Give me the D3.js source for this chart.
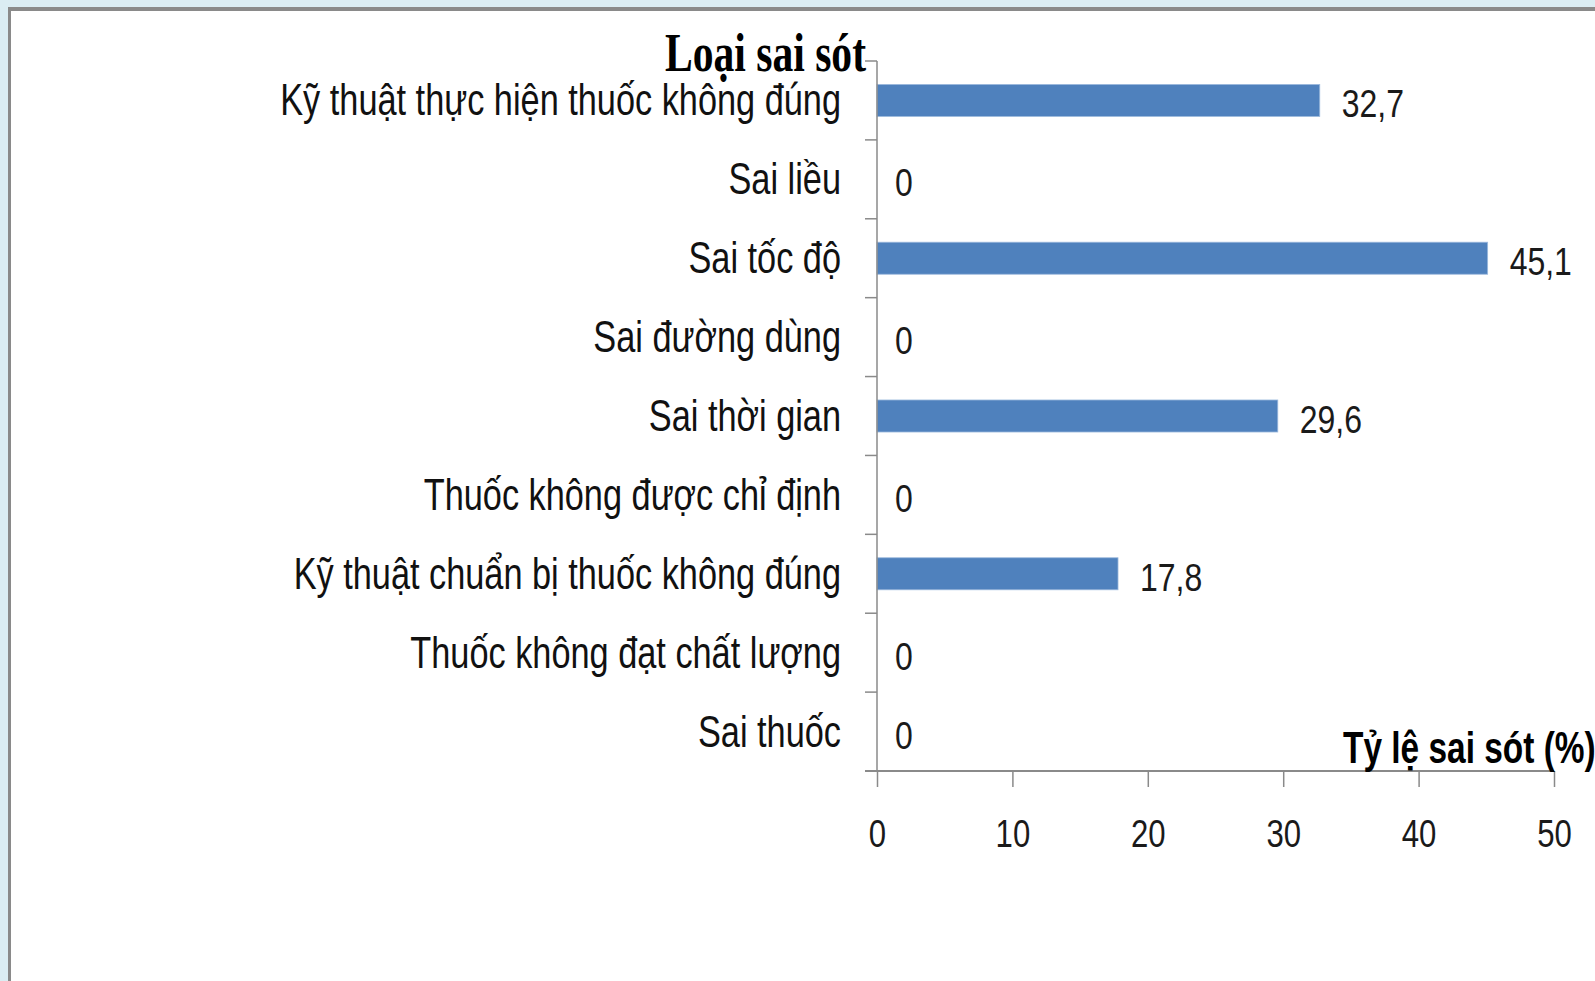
<!DOCTYPE html>
<html>
<head>
<meta charset="utf-8">
<script src="https://cdn.jsdelivr.net/npm/d3@7"></script>
<style>
  body { margin: 0; background: #dbedf3; }
  svg { display: block; }
</style>
</head>
<body>
<svg width="1595" height="981"></svg>
<script>

const categories = [
  "Kỹ thuật thực hiện thuốc không đúng",
  "Sai liều",
  "Sai tốc độ",
  "Sai đường dùng",
  "Sai thời gian",
  "Thuốc không được chỉ định",
  "Kỹ thuật chuẩn bị thuốc không đúng",
  "Thuốc không đạt chất lượng",
  "Sai thuốc"
];
const values = [32.7, 0, 45.1, 0, 29.6, 0, 17.8, 0, 0];
const xTicks = [0, 10, 20, 30, 40, 50];
const yTitle = "Loại sai sót";
const xTitle = "Tỷ lệ sai sót (%)";

const svg = d3.select("svg");

// frame: light blue border with gray edge, white panel
svg.append("rect").attr("x", 8).attr("y", 7).attr("width", 1587).attr("height", 974).attr("fill", "#8a8a8a");
svg.append("rect").attr("x", 11).attr("y", 11).attr("width", 1584).attr("height", 970).attr("fill", "#fff");

const x = d3.scaleLinear().domain([0, 50]).range([877, 1554]);
const y = d3.scaleBand().domain(categories).range([61, 771]).paddingInner(0.594).paddingOuter(0.297);

const axisColor = "#8a8a8a";
const fmt = v => v === 0 ? "0" : d3.format(".1f")(v).replace(".", ",");

// bars
svg.selectAll(".bar").data(categories).enter().append("rect")
  .attr("class", "bar")
  .attr("x", x(0))
  .attr("y", d => y(d))
  .attr("width", (d, i) => x(values[i]) - x(0))
  .attr("height", y.bandwidth())
  .attr("fill", "#4f81bd")
  .attr("stroke", "#9cb9dd")
  .attr("stroke-width", 0.8)
  .style("display", (d, i) => values[i] === 0 ? "none" : null)

// value labels
svg.selectAll(".val").data(categories).enter().append("text")
  .attr("class", "val")
  .attr("transform", (d, i) => `translate(${x(values[i]) + (values[i] === 0 ? 18 : 22)},${y(d) + y.bandwidth() / 2 + 17}) scale(0.82,1)`)
  .style("font-family", "'Liberation Sans', Arial, sans-serif")
  .style("font-size", "39px")
  .style("fill", "#1a1a1a")
  .text((d, i) => fmt(values[i]))

// y axis line and category boundary ticks
svg.append("line")
  .attr("x1", x(0)).attr("x2", x(0))
  .attr("y1", y.range()[0]).attr("y2", y.range()[1])
  .style("stroke", axisColor).style("stroke-width", 1.5)

const bounds = d3.range(categories.length).map(i => y.range()[0] + i * y.step());
svg.selectAll(".ytick").data(bounds).enter().append("line")
  .attr("class", "ytick")
  .attr("x1", x(0) - 12).attr("x2", x(0))
  .attr("y1", d => d).attr("y2", d => d)
  .style("stroke", axisColor).style("stroke-width", 1.5)

// category labels
svg.selectAll(".ylab").data(categories).enter().append("text")
  .attr("class", "ylab")
  .attr("text-anchor", "end")
  .attr("transform", d => `translate(841,${y(d) + y.bandwidth() / 2 + 15}) scale(0.78,1)`)
  .style("font-family", "'Liberation Sans', Arial, sans-serif")
  .style("font-size", "44px")
  .style("fill", "#111")
  .text(d => d)

// x axis
const xAxis = svg.append("g")
  .attr("transform", `translate(0,${y.range()[1]})`)
  .call(d3.axisBottom(x).tickValues(xTicks).tickSize(16).tickSizeOuter(0).tickFormat(d3.format("d")))

xAxis.select(".domain")
  .attr("d", `M${x(0) - 12},0H${x(50)}`)
  .style("stroke", axisColor).style("stroke-width", 2)
xAxis.selectAll(".tick line").style("stroke", axisColor).style("stroke-width", 1.5)
xAxis.selectAll(".tick text")
  .attr("y", 76).attr("dy", 0)
  .attr("transform", "scale(0.82,1)")
  .style("font-family", "'Liberation Sans', Arial, sans-serif")
  .style("font-size", "38px")
  .style("fill", "#1a1a1a")

// titles
svg.append("text")
  .attr("text-anchor", "end")
  .attr("transform", "translate(866,71) scale(0.77,1)")
  .style("font-family", "'Liberation Serif', 'Times New Roman', serif")
  .style("font-weight", "bold")
  .style("font-size", "54px")
  .text(yTitle)

svg.append("text")
  .attr("transform", "translate(1343,763) scale(0.76,1)")
  .style("font-family", "'Liberation Sans', Arial, sans-serif")
  .style("font-weight", "bold")
  .style("font-size", "44px")
  .text(xTitle)

</script>
</body>
</html>
